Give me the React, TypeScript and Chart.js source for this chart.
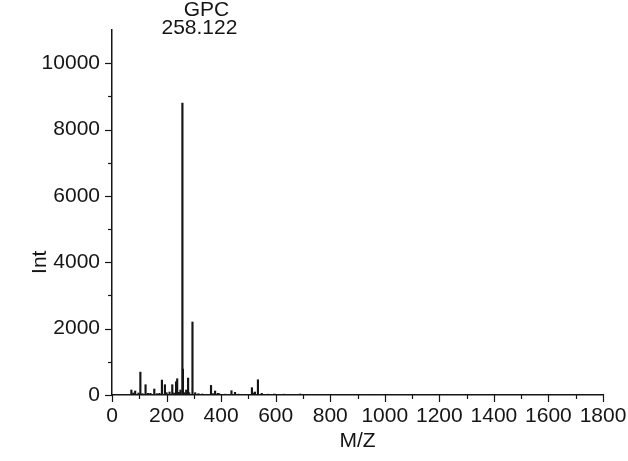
import React, { useEffect, useRef } from "react";
import { Chart, registerables } from "chart.js";

Chart.register(...registerables);

const mzValues: number[] = [
  71, 78, 85, 97, 104, 112, 123, 132, 141, 155, 165, 174, 183, 194, 200, 211,
  221, 228, 235, 239, 245, 251, 258.122, 260, 266, 272, 279, 283, 295, 305,
  317, 331, 363, 370, 378, 388, 393, 415, 438, 451, 464, 513, 518, 524, 535,
  549, 572, 595, 612, 630, 648, 672, 690, 715, 740, 772, 800, 830, 870, 905, 950,
];
const intensityValues: number[] = [
  150, 60, 120, 60, 690, 40, 310, 50, 50, 180, 40, 50, 450, 310, 70, 90,
  310, 60, 400, 490, 80, 150, 8800, 780, 70, 150, 510, 70, 2200, 70,
  40, 30, 290, 40, 120, 50, 40, 25, 130, 80, 25, 220, 60, 90, 460,
  50, 25, 30, 20, 25, 15, 20, 30, 15, 15, 10, 12, 10, 10, 8, 6,
];
const peakName = "GPC";
const peakMz = 258.122;
const xTitle = "M/Z";
const yTitle = "Int";

const FONT = "'Liberation Sans', Arial, Helvetica, sans-serif";
const INK = "#151515";
const FS = 21;

const tickPlugin = {
  id: "customTicks",
  afterDraw(chart: any) {
    const { ctx, chartArea, scales } = chart;
    const x = scales.x;
    const y = scales.y;
    ctx.save();
    ctx.strokeStyle = INK;
    ctx.lineWidth = 1.2;
    x.ticks.forEach((t: any) => {
      const px = Math.round(x.getPixelForValue(t.value)) + 0.5;
      const len = t.value % 200 === 0 ? 7 : 4;
      ctx.beginPath();
      ctx.moveTo(px, chartArea.bottom);
      ctx.lineTo(px, chartArea.bottom + len);
      ctx.stroke();
    });
    y.ticks.forEach((t: any) => {
      if (t.value > 10000) return;
      const py = Math.round(y.getPixelForValue(t.value)) + 0.5;
      const len = t.value % 2000 === 0 ? 7 : 4;
      ctx.beginPath();
      ctx.moveTo(chartArea.left, py);
      ctx.lineTo(chartArea.left - len, py);
      ctx.stroke();
    });
    ctx.fillStyle = INK;
    ctx.font = `${FS}px ${FONT}`;
    ctx.textAlign = "center";
    ctx.textBaseline = "middle";
    // annotation
    const px = x.getPixelForValue(peakMz);
    ctx.fillText(peakName, px + 24, chartArea.top - 20);
    ctx.fillText(String(peakMz), px + 17, chartArea.top - 2);
    // axis titles
    ctx.fillText(xTitle, (chartArea.left + chartArea.right) / 2, chartArea.bottom + 46);
    ctx.save();
    ctx.translate(chartArea.left - 72, y.getPixelForValue(4000));
    ctx.rotate(-Math.PI / 2);
    ctx.fillText(yTitle, 0, 0);
    ctx.restore();
    ctx.restore();
  },
};

export default function App() {
  const ref = useRef<HTMLCanvasElement | null>(null);
  useEffect(() => {
    if (!ref.current) return;
    const data = mzValues.map((m, i) => ({ x: m, y: intensityValues[i] }));
    const chart = new Chart(ref.current, {
      type: "bar",
      data: {
        datasets: [
          {
            data,
            backgroundColor: INK,
            borderWidth: 0,
            barThickness: 1.5,
          } as any,
        ],
      },
      options: {
        animation: false,
        responsive: false,
        maintainAspectRatio: false,
        layout: { padding: { top: 30, right: 25, left: 0, bottom: 0 } },
        plugins: { legend: { display: false }, tooltip: { enabled: false } },
        scales: {
          x: {
            type: "linear",
            min: 0,
            max: 1800,
            offset: false,
            grid: { display: false, drawTicks: false },
            border: { display: true, color: INK, width: 1.5 },
            ticks: {
              stepSize: 100,
              autoSkip: false,
              maxRotation: 0,
              padding: 9,
              color: INK,
              font: { family: FONT, size: FS },
              callback: (v: any) => (Number(v) % 200 === 0 ? String(v) : ""),
            },
            afterFit: (s: any) => {
              s.height = 66;
              s.paddingLeft = 0;
              s.paddingRight = 0;
            },
          },
          y: {
            type: "linear",
            min: 0,
            max: 11000,
            grid: { display: false, drawTicks: false },
            border: { display: true, color: INK, width: 1.5 },
            ticks: {
              stepSize: 1000,
              autoSkip: false,
              padding: 12,
              color: INK,
              font: { family: FONT, size: FS },
              callback: (v: any) =>
                Number(v) % 2000 === 0 && Number(v) <= 10000 ? String(v) : "",
            },
            afterFit: (s: any) => {
              s.width = 112;
              s.paddingTop = 0;
              s.paddingBottom = 0;
            },
          },
        },
      },
      plugins: [tickPlugin],
    });
    return () => chart.destroy();
  }, []);
  return (
    <div
      style={{
        position: "fixed",
        left: 0,
        top: 0,
        width: 628,
        height: 461,
        background: "#fff",
      }}
    >
      <canvas ref={ref} width={628} height={461} style={{ width: 628, height: 461 }} />
    </div>
  );
}
